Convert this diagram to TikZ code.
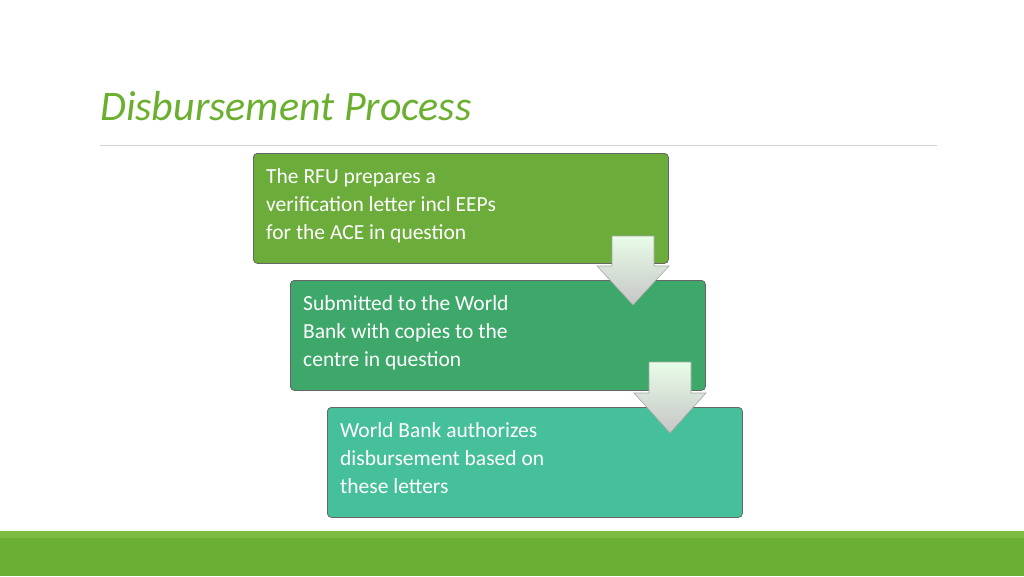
\documentclass[tikz,border=0pt]{standalone}
\usepackage{fontspec}
\setmainfont{Carlito}
\definecolor{titlegreen}{HTML}{6AAF2E}
\begin{document}
\begin{tikzpicture}[x=1pt,y=-1pt,
  stepbox/.style={draw=black!60,line width=0.8pt,rounded corners=4pt,minimum width=415pt,minimum height=110pt,anchor=north west,inner sep=0pt},
  steptext/.style={anchor=north west,text=white,font=\fontsize{21.5}{28}\selectfont,align=left,inner sep=0pt},
  downarrow/.style={draw=gray!70,line width=0.6pt,top color=gray!20!green!10,bottom color=gray!45}]
\useasboundingbox (0,0) rectangle (1024,576);
\fill[white] (0,0) rectangle (1024,576);
\node[anchor=base west,text=titlegreen,font=\fontsize{42}{48}\selectfont\itshape,inner sep=0pt] (title) at (100,120) {Disbursement Process};
\draw[gray!35,line width=0.8pt] (100,145) -- (937,145);
\fill[fill={rgb,255:red,125;green,187;blue,66}] (0,531) rectangle (1024,538);
\fill[fill={rgb,255:red,106;green,174;blue,52}] (0,538) rectangle (1024,576);
\node[stepbox,fill={rgb,255:red,107;green,172;blue,58}] (b1) at (253,153) {};
\node[steptext] (t1) at (266,168) {The RFU prepares a\\verification letter incl EEPs\\for the ACE in question};
\node[stepbox,fill={rgb,255:red,61;green,168;blue,106}] (b2) at (290,280) {};
\node[steptext] (t2) at (303,295) {Submitted to the World\\Bank with copies to the\\centre in question};
\node[stepbox,fill={rgb,255:red,70;green,192;blue,154}] (b3) at (327,407) {};
\node[steptext] (t3) at (340,422) {World Bank authorizes\\disbursement based on\\these letters};
\draw[downarrow] (612,236) -- (654,236) -- (654,266) -- (669,266) -- (633,305) -- (597,266) -- (612,266) -- cycle;
\draw[downarrow] (649,362) -- (691,362) -- (691,393) -- (706,393) -- (670,433) -- (634,393) -- (649,393) -- cycle;
\end{tikzpicture}
\end{document}
